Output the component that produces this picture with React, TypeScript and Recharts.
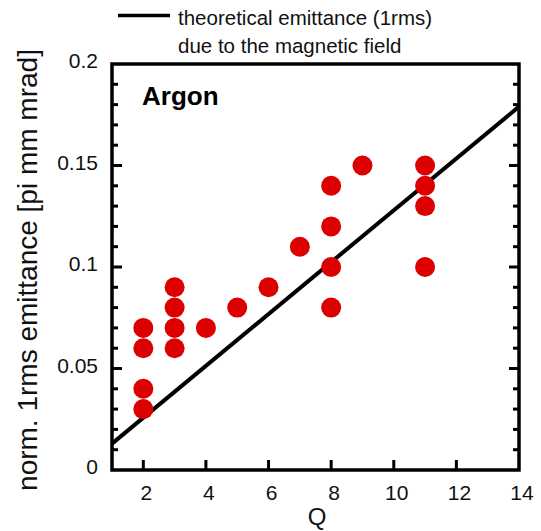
import React from 'react'
import { ScatterChart, Scatter, XAxis, YAxis, ReferenceArea } from 'recharts'

const Q_VALUES = [2, 2, 2, 2, 3, 3, 3, 3, 4, 5, 6, 7, 8, 8, 8, 8, 9, 11, 11, 11, 11]
const EMITTANCE = [
  0.07, 0.06, 0.04, 0.03, 0.09, 0.08, 0.07, 0.06, 0.07, 0.08, 0.09, 0.11, 0.14, 0.12, 0.1, 0.08,
  0.15, 0.15, 0.14, 0.13, 0.1,
]

// theoretical emittance line
const THEORY_Q = [1, 14]
const THEORY_EMITTANCE = [0.013, 0.179]

const X_TICKS = [2, 4, 6, 8, 10, 12, 14]
const Y_TICKS = [
  0, 0.01, 0.02, 0.03, 0.04, 0.05, 0.06, 0.07, 0.08, 0.09, 0.1, 0.11, 0.12, 0.13, 0.14, 0.15, 0.16,
  0.17, 0.18, 0.19, 0.2,
]
const Y_LABELED = ['0', '0.05', '0.1', '0.15', '0.2']

const FONT = '"Liberation Sans", Arial, sans-serif'
const RED = '#dd0000'

const measured = Q_VALUES.map((q, i) => ({ q, e: EMITTANCE[i] }))
const theory = THEORY_Q.map((q, i) => ({ q, e: THEORY_EMITTANCE[i] }))

const isMajor = (v: number) => Y_LABELED.includes(String(v))

function BottomTick({ x, y, payload }: any) {
  return (
    <g>
      {payload.value < 14 && (
        <line x1={x} y1={y} x2={x} y2={y - 10} stroke="#000" strokeWidth={3} />
      )}
      <text x={x + 3} y={y + 30} textAnchor="middle" fontSize={21} fontFamily={FONT} fill="#111">
        {payload.value}
      </text>
    </g>
  )
}

function LeftTick({ x, y, payload }: any) {
  const v = payload.value
  const major = isMajor(v)
  const onEdge = v === 0 || v === 0.2
  return (
    <g>
      {!onEdge && (
        <line x1={x} y1={y} x2={x + (major ? 10 : 6)} y2={y} stroke="#000" strokeWidth={3} />
      )}
      {major && (
        <text x={x - 14} y={y + 4} textAnchor="end" fontSize={21} fontFamily={FONT} fill="#111">
          {String(v)}
        </text>
      )}
    </g>
  )
}

function RightTick({ x, y, payload }: any) {
  const v = payload.value
  if (v === 0 || v === 0.2) return <g />
  return <line x1={x} y1={y} x2={x - (isMajor(v) ? 10 : 6)} y2={y} stroke="#000" strokeWidth={3} />
}

const Dot = (props: any) => <circle cx={props.cx} cy={props.cy} r={10} fill={RED} />
const NoDot = () => <g />

export default function App() {
  return (
    <div
      style={{
        position: 'absolute',
        left: 0,
        top: 0,
        width: 541,
        height: 531,
        background: '#fff',
        fontFamily: FONT,
      }}
    >
      <ScatterChart width={541} height={531} margin={{ top: 64, right: 0, bottom: 0, left: 0 }}>
        <XAxis
          dataKey="q"
          type="number"
          domain={[1, 14]}
          ticks={X_TICKS}
          interval={0}
          height={61}
          axisLine={false}
          tickLine={false}
          tickSize={0}
          tickMargin={0}
          tick={<BottomTick />}
        />
        <YAxis
          yAxisId="left"
          dataKey="e"
          type="number"
          domain={[0, 0.2]}
          ticks={Y_TICKS}
          interval={0}
          width={112}
          axisLine={false}
          tickLine={false}
          tickSize={0}
          tickMargin={0}
          tick={<LeftTick />}
        />
        <YAxis
          yAxisId="right"
          orientation="right"
          dataKey="e"
          type="number"
          domain={[0, 0.2]}
          ticks={Y_TICKS}
          interval={0}
          width={22}
          axisLine={false}
          tickLine={false}
          tickSize={0}
          tickMargin={0}
          tick={<RightTick />}
        />
        <ReferenceArea
          yAxisId="left"
          x1={1}
          x2={14}
          y1={0}
          y2={0.2}
          fill="none"
          stroke="#000"
          strokeWidth={3.5}
          ifOverflow="visible"
        />
        <Scatter
          yAxisId="right"
          data={theory}
          line={{ stroke: '#000', strokeWidth: 4 }}
          shape={NoDot}
          isAnimationActive={false}
        />
        <Scatter yAxisId="left" data={measured} shape={Dot} isAnimationActive={false} />
      </ScatterChart>

      <svg
        width={541}
        height={531}
        style={{ position: 'absolute', left: 0, top: 0, pointerEvents: 'none' }}
        fontFamily={FONT}
      >
        <line x1={118} y1={15.5} x2={170} y2={15.5} stroke="#000" strokeWidth={3.5} />
        <text x={178} y={25} fontSize={20.5} fill="#111">
          theoretical emittance (1rms)
        </text>
        <text x={178} y={53} fontSize={20.5} fill="#111">
          due to the magnetic field
        </text>
        <text x={142} y={105} fontSize={26} fontWeight="bold" fill="#000">
          Argon
        </text>
        <text x={317} y={525} fontSize={24} textAnchor="middle" fill="#111">
          Q
        </text>
        <text
          transform="translate(37,270) rotate(-90)"
          fontSize={28}
          textAnchor="middle"
          fill="#111"
        >
          norm. 1rms emittance [pi mm mrad]
        </text>
      </svg>
    </div>
  )
}
